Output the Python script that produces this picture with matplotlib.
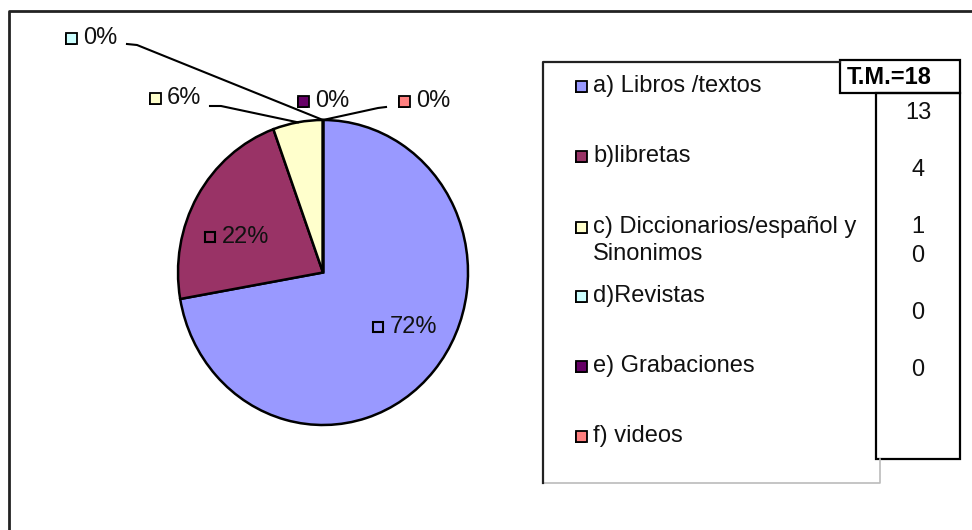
import numpy as np
import matplotlib.pyplot as plt
from matplotlib.patches import Rectangle

plt.rcParams['font.family'] = ['Liberation Sans', 'DejaVu Sans']

# data
labels = ['a) Libros /textos', 'b)libretas', 'c) Diccionarios/español y\nSinonimos',
          'd)Revistas', 'e) Grabaciones', 'f) videos']
values = [13, 4, 1, 0, 0, 0]
colors = ['#9999FF', '#993366', '#FFFFCC', '#CCFFFF', '#660066', '#FF8080']
total = sum(values)

W, H = 972, 530
fig = plt.figure(figsize=(W / 100, H / 100), dpi=100)

# pie axes (pixel box of the pie)
px0, py0, pw, ph = 178, 120, 290, 305
ax = fig.add_axes([px0 / W, (H - py0 - ph) / H, pw / W, ph / H])
wedges, _ = ax.pie(values, colors=colors, startangle=90, counterclock=False,
                   wedgeprops=dict(edgecolor='black', linewidth=1.8))
ax.set_aspect('auto')
ax.set_xlim(-1, 1)
ax.set_ylim(-1, 1)

# overlay in pixel coordinates, y from the top
ov = fig.add_axes([0, 0, 1, 1], zorder=5)
ov.set_xlim(0, W)
ov.set_ylim(H, 0)
ov.axis('off')
ov.patch.set_visible(False)

fs = 17
tc = '#111111'

# outer frame
ov.plot([9, 9, W], [H, 11, 11], color='#222222', lw=2)


def pie_point(i, r=1.0):
    w = wedges[i]
    a = np.deg2rad((w.theta1 + w.theta2) / 2)
    disp = ax.transData.transform((r * np.cos(a), r * np.sin(a)))
    return ov.transData.inverted().transform(disp)


def key(x, y, fc, s=11):
    ov.add_patch(Rectangle((x - s / 2 - 1, y - s / 2 + 1), s, s, facecolor='black', edgecolor='none'))
    ov.add_patch(Rectangle((x - s / 2, y - s / 2), s, s, facecolor=fc, edgecolor='black', lw=1.3))


pct = [f'{round(100 * v / total)}%' for v in values]

# data labels: (key x, y, leader points before the pie edge)
lab_pos = {
    0: (378, 327, None),
    1: (210, 237, None),
    2: (155, 98, [(210, 106), (221, 106)]),
    3: (71, 38, [(127, 44), (137, 45)]),
    4: (303, 101, None),
    5: (404, 101, [(386, 107), (378, 108)]),
}
for i, (kx, ky, lead) in lab_pos.items():
    if i < 2:
        ov.add_patch(Rectangle((kx - 5, ky - 5), 10, 10, facecolor='none',
                               edgecolor='black', lw=1.5))
    else:
        key(kx, ky, colors[i])
    ov.text(kx + 12, ky, pct[i], fontsize=fs, va='center', ha='left', color=tc)
    if lead:
        ex, ey = pie_point(i)
        xs = [p[0] for p in lead] + [ex]
        ys = [p[1] for p in lead] + [ey]
        ov.plot(xs, ys, color='black', lw=1.5)

# legend box
ov.plot([543, 880, 880], [483, 483, 459], color='#bbbbbb', lw=1.2)
ov.plot([543, 543, 840], [483, 62, 62], color='#222222', lw=1.6)

leg_y = [86, 156, 227, 296, 366, 436]
for lab, c, y in zip(labels, colors, leg_y):
    key(581, y, c)
    for k, line in enumerate(lab.split('\n')):
        ov.text(593, y + k * 27, line, fontsize=fs, va='center', ha='left', color=tc)

# T.M. table
ov.add_patch(Rectangle((840, 60), 120, 33, facecolor='white', edgecolor='black', lw=1.6))
ov.add_patch(Rectangle((876, 93), 84, 366, facecolor='none', edgecolor='black', lw=1.6))
ov.text(889, 77, f'T.M.={total}', fontsize=fs, fontweight='bold', ha='center', va='center')
rows = [0, 2, 4, 5, 7, 9]
for v, r in zip(values, rows):
    ov.text(918, 113 + r * 28.6, str(v), fontsize=fs, ha='center', va='center', color=tc)

fig.savefig('out.png', dpi=100)
